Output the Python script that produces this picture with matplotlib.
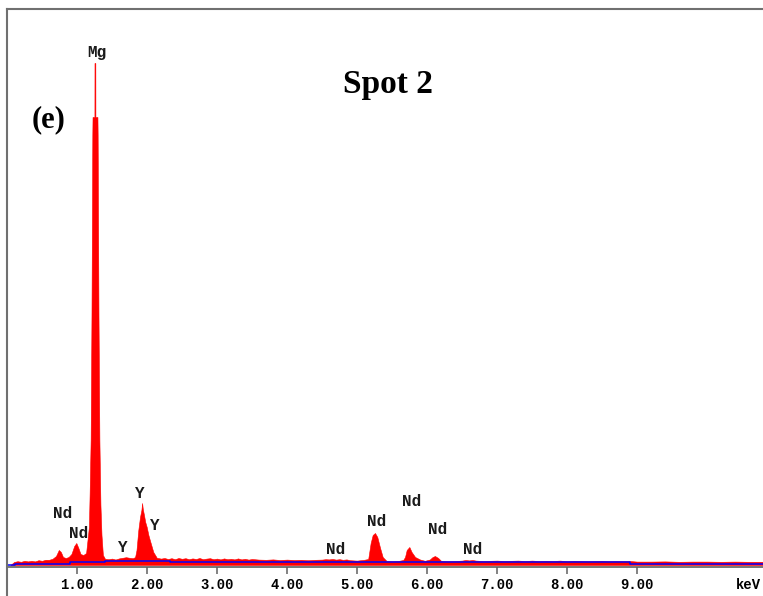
import matplotlib
matplotlib.use("Agg")
import matplotlib.pyplot as plt
from matplotlib.lines import Line2D

# EDS spectrum, Spot 2 (energy in keV, counts)
energy = [0.05, 0.10, 0.15, 0.20, 0.25, 0.30, 0.35, 0.40, 0.45, 0.50, 0.55, 0.60,
          0.65, 0.70, 0.74, 0.77, 0.80, 0.84, 0.88, 0.92, 0.96, 0.99, 1.02, 1.05,
          1.09, 1.13, 1.15, 1.17, 1.18, 1.195, 1.207, 1.219, 1.222, 1.249, 1.250,
          1.262, 1.263, 1.292, 1.295, 1.307, 1.32, 1.335, 1.35, 1.37, 1.40, 1.45,
          1.50, 1.55, 1.60, 1.65, 1.70, 1.75, 1.80, 1.83, 1.85, 1.876, 1.90, 1.92,
          1.93, 1.94, 1.957, 1.975, 1.996, 2.02, 2.04, 2.09, 2.14, 2.20, 2.25, 2.30,
          2.35, 2.40, 2.45, 2.50, 2.55, 2.60, 2.65, 2.70, 2.75, 2.80, 2.85, 2.90,
          2.95, 3.00, 3.05, 3.10, 3.15, 3.20, 3.25, 3.30, 3.35, 3.40, 3.45, 3.50,
          3.60, 3.70, 3.80, 3.90, 4.00, 4.10, 4.20, 4.30, 4.40, 4.50, 4.55, 4.60,
          4.65, 4.70, 4.75, 4.80, 4.85, 4.90, 5.00, 5.05, 5.10, 5.16, 5.195, 5.224,
          5.257, 5.29, 5.33, 5.367, 5.42, 5.50, 5.60, 5.66, 5.686, 5.71, 5.748, 5.78,
          5.83, 5.90, 5.97, 6.04, 6.08, 6.114, 6.16, 6.20, 6.30, 6.40, 6.50, 6.55,
          6.60, 6.65, 6.70, 6.80, 6.90, 7.00, 7.10, 7.20, 7.30, 7.40, 7.50, 7.60,
          7.70, 7.80, 7.90, 8.00, 8.10, 8.20, 8.30, 8.40, 8.50, 8.60, 8.70, 8.80,
          8.90, 9.00, 9.20, 9.40, 9.60, 9.80, 10.00, 10.20, 10.40, 10.60, 10.80]
counts = [0, 30, 38, 32, 42, 36, 42, 36, 48, 42, 52, 52,
          62, 90, 150, 130, 80, 70, 80, 110, 190, 220, 170, 110,
          100, 120, 250, 380, 700, 1250, 2500, 4300, 4480, 4480, 5020,
          5020, 4480, 4480, 4300, 2500, 1250, 600, 300, 100, 62, 58,
          64, 55, 66, 72, 78, 72, 68, 80, 150, 350, 480, 550,
          620, 560, 500, 430, 380, 300, 250, 130, 72, 64, 70, 60,
          68, 58, 70, 62, 68, 58, 66, 60, 70, 58, 64, 68,
          58, 64, 56, 66, 58, 62, 56, 66, 56, 62, 54, 60,
          54, 52, 56, 50, 54, 50, 52, 48, 52, 54, 58, 56,
          60, 54, 58, 52, 56, 48, 44, 48, 52, 60,
          220, 300, 320, 280, 170, 80, 42, 38, 42, 50, 80, 150,
          180, 130, 80, 55, 42, 55, 80, 90, 70, 42, 38, 40, 44, 50,
          46, 50, 44, 40, 42, 44, 40, 42, 44, 40, 44, 40,
          42, 40, 44, 38, 42, 40, 38, 40, 42, 38, 40, 38,
          40, 34, 34, 36, 32, 34, 34, 32, 34, 32, 32]

# fitted background (blue)
bg_energy = [0.0, 0.11, 0.90, 1.40, 2.33, 4.45, 8.90, 10.80]
bg_counts = [3, 13, 27, 37, 30, 27, 10, 10]

# peak labels
label_text = ["Mg", "Nd", "Nd", "Y", "Y", "Y", "Nd", "Nd", "Nd", "Nd", "Nd"]
label_pos = [(1.286, 5130), (0.80, 520), (1.029, 320), (1.90, 720), (2.114, 390),
             (1.657, 180), (4.70, 160), (5.286, 430), (5.786, 630), (6.157, 360),
             (6.657, 150)]

ticks = [1, 2, 3, 4, 5, 6, 7, 8, 9]

W, H = 763, 596
fig = plt.figure(figsize=(W / 100, H / 100), dpi=100)
ax = fig.add_axes([7 / W, (H - 567) / H, (W - 7) / W, (567 - 9) / H])

ax.fill_between(energy, 0, counts, color='#ff0000', lw=0.4, edgecolor='#ff0000', zorder=2)
ax.plot(bg_energy, bg_counts, color='#0000ff', lw=1.1, drawstyle='steps-post', zorder=3)

ax.set_xlim(0, 10.8)
ax.set_ylim(-20, 5560)

for s in ['left', 'right']:
    ax.spines[s].set_visible(False)
ax.spines['top'].set_color('#707070')
ax.spines['top'].set_linewidth(1.5)
ax.spines['bottom'].set_color('#606060')
ax.spines['bottom'].set_linewidth(1.2)

# left frame line runs to the bottom edge of the figure
fig.add_artist(Line2D([7 / W, 7 / W], [0, 1 - 9 / H], color='#707070', lw=1.5))

ax.set_yticks([])
ax.set_xticks(ticks)
ax.set_xticklabels(['%.2f' % t for t in ticks], family='Liberation Mono',
                   fontweight='bold', fontsize=10)
ax.tick_params(axis='x', direction='out', length=5, width=1.1, color='#606060', pad=3)

fig.text(748 / W, 1 - 585 / H, 'keV', family='Liberation Mono', fontweight='bold',
         fontsize=10, ha='center', va='center')

for t, (x, y) in zip(label_text, label_pos):
    ax.text(x, y, t, family='Liberation Mono', fontweight='bold', fontsize=11.5,
            ha='center', va='center', color='#1a1a1a')

fig.text(388 / W, 1 - 84 / H, 'Spot 2', family='Liberation Serif', fontweight='bold',
         fontsize=24, ha='center', va='center')
fig.text(49 / W, 1 - 120 / H, '(e)', family='Liberation Serif', fontweight='bold',
         fontsize=22, ha='center', va='center')

fig.savefig('out.png', dpi=100)
